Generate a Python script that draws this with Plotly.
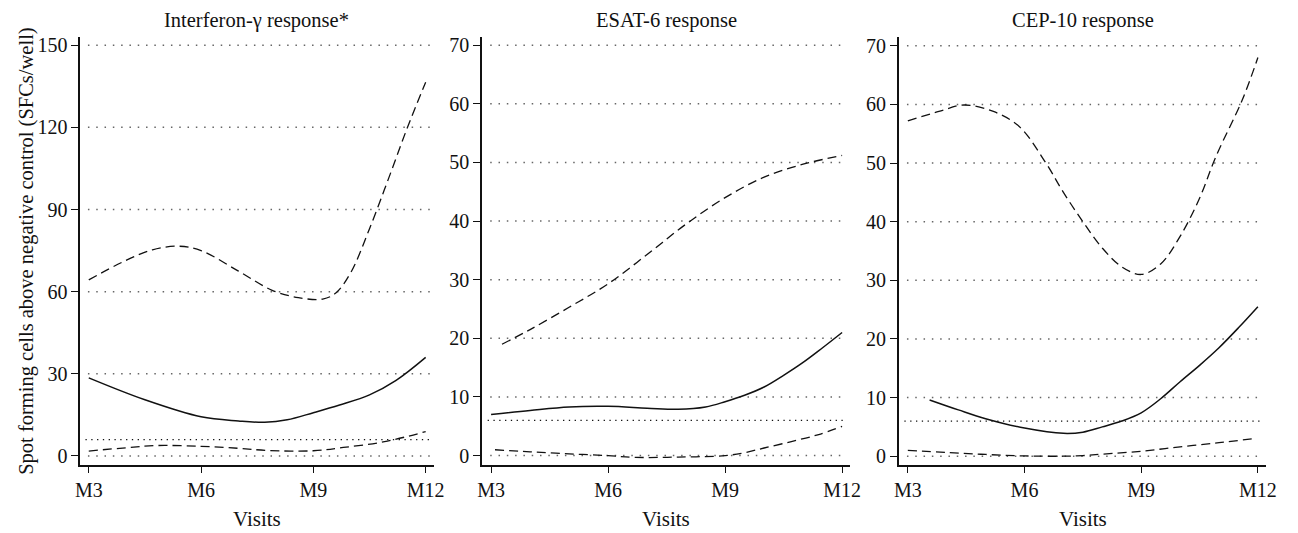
import plotly.graph_objects as go

# ---------------- data ----------------
titles = ["Interferon-\u03b3 response*", "ESAT-6 response", "CEP-10 response"]
x_tickvals = [3, 6, 9, 12]
x_ticktext = ["M3", "M6", "M9", "M12"]
y_ticks_ifn = [0, 30, 60, 90, 120, 150]
y_ticks_esat = [0, 10, 20, 30, 40, 50, 60, 70]
y_ticks_cep = [0, 10, 20, 30, 40, 50, 60, 70]
ref_level = 6

# Interferon-gamma
ifn_fit_x = [3, 4.5, 6, 7, 7.7, 8.3, 9, 9.7, 10.5, 11.2, 12]
ifn_fit_y = [28.5, 20.5, 14.3, 12.8, 12.3, 13.2, 15.8, 18.6, 22.3, 27.5, 36]
ifn_up_x = [3, 3.9, 4.7, 5.4, 6, 7, 7.9, 8.6, 9.25, 9.6, 10, 10.5, 11, 11.5, 12]
ifn_up_y = [64.3, 70.8, 75.3, 76.6, 75.0, 67.5, 60.5, 57.8, 57.3, 59.5, 67, 83, 101, 119.5, 136.5]
ifn_lo_x = [3, 4, 4.8, 6, 7, 7.8, 9, 9.8, 10.9, 12]
ifn_lo_y = [1.8, 3.0, 3.8, 3.5, 2.8, 2.0, 1.9, 3.1, 5.2, 8.9]

# ESAT-6
esat_fit_x = [3, 4, 5, 6, 7, 7.8, 8.5, 9, 9.5, 10, 10.5, 11, 11.5, 12]
esat_fit_y = [7.0, 7.7, 8.3, 8.4, 8.1, 7.9, 8.3, 9.2, 10.3, 11.7, 13.7, 15.9, 18.4, 21.0]
esat_up_x = [3.28, 4, 5, 6, 7, 8, 9, 10, 11, 12]
esat_up_y = [19.0, 21.5, 25.3, 29.3, 34.3, 39.5, 44.0, 47.5, 49.7, 51.2]
esat_lo_x = [3.1, 4, 5, 6, 6.7, 7.8, 9, 9.5, 10, 10.7, 11.4, 12]
esat_lo_y = [1.0, 0.65, 0.3, 0.0, -0.3, -0.25, 0.0, 0.5, 1.3, 2.4, 3.6, 5.0]

# CEP-10
cep_fit_x = [3.56, 4.3, 5, 6, 7, 7.5, 8, 8.5, 9, 9.5, 10, 10.5, 11, 11.5, 12]
cep_fit_y = [9.6, 7.9, 6.4, 4.8, 3.9, 4.1, 5.0, 6.0, 7.4, 9.8, 12.7, 15.5, 18.5, 21.9, 25.5]
cep_up_x = [3, 3.8, 4.45, 5.2, 5.87, 6.55, 7, 7.5, 8, 8.5, 9, 9.5, 10, 10.5, 10.92, 11.6, 12]
cep_up_y = [57.2, 58.8, 59.9, 58.8, 56.2, 50.0, 45.0, 40.0, 35.5, 32.3, 31.0, 32.8, 37.5, 44.0, 51.1, 60.8, 68.0]
cep_lo_x = [3, 4, 5, 6, 7, 7.5, 8, 9, 10, 11, 11.9]
cep_lo_y = [1.0, 0.65, 0.3, 0.05, 0.0, 0.1, 0.35, 0.85, 1.6, 2.3, 3.0]

panels = [
    (ifn_fit_x, ifn_fit_y, ifn_up_x, ifn_up_y, ifn_lo_x, ifn_lo_y, y_ticks_ifn),
    (esat_fit_x, esat_fit_y, esat_up_x, esat_up_y, esat_lo_x, esat_lo_y, y_ticks_esat),
    (cep_fit_x, cep_fit_y, cep_up_x, cep_up_y, cep_lo_x, cep_lo_y, y_ticks_cep),
]

# ---------------- layout / style ----------------
OFF = 8                      # default page body margin
W, H = 1298 - OFF, 533 - OFF
TOP, BOT = 37 - OFF, 465 - OFF   # plot area rows (figure pixels)
MT, MB = TOP, H - BOT
PH = BOT - TOP
FONT = "Liberation Serif, Times New Roman, serif"
INK = "#111111"


def px(pix):
    return (pix - OFF) / W


def py(pix):
    """reference pixel row from top -> paper y"""
    return (BOT - (pix - OFF)) / PH


x_domains = [(px(76), px(434)), (px(483), px(856)), (px(905), px(1277))]
y_ranges = [[-3.3, 153], [-1.6, 71.4], [-1.5, 71.5]]
x_range = [2.77, 12.215]

fig = go.Figure()
layout = dict(
    width=W, height=H,
    margin=dict(l=0, r=0, t=MT, b=MB),
    paper_bgcolor="white", plot_bgcolor="white",
    showlegend=False,
    font=dict(family=FONT, size=20, color=INK),
)
shapes = []
annotations = []

for i, (fx, fy, ux, uy, lx, ly, yt) in enumerate(panels):
    n = "" if i == 0 else str(i + 1)
    xa, ya = "x" + n, "y" + n
    fig.add_trace(go.Scatter(x=fx, y=fy, mode="lines", xaxis=xa, yaxis=ya,
                             line=dict(color=INK, width=1.5, shape="spline", smoothing=1.0)))
    for sx, sy in ((ux, uy), (lx, ly)):
        fig.add_trace(go.Scatter(x=sx, y=sy, mode="lines", xaxis=xa, yaxis=ya,
                                 line=dict(color=INK, width=1.3, dash="9px,5px",
                                           shape="spline", smoothing=1.0)))
    layout["xaxis" + n] = dict(
        domain=list(x_domains[i]), anchor=ya, range=x_range,
        tickvals=x_tickvals, ticktext=x_ticktext, ticks="outside", ticklen=6,
        tickwidth=1.2, tickcolor=INK, showline=True, linecolor=INK, linewidth=1.5,
        showgrid=False, zeroline=False, tickfont=dict(size=20, family=FONT, color=INK),
    )
    layout["yaxis" + n] = dict(
        domain=[0, 1], anchor=xa, range=y_ranges[i],
        tickvals=yt, ticks="outside", ticklen=7, tickwidth=1.2, tickcolor=INK,
        showline=True, linecolor=INK, linewidth=1.5, showgrid=False, zeroline=False,
        tickfont=dict(size=20, family=FONT, color=INK),
    )
    # dotted grid lines
    for v in yt:
        shapes.append(dict(type="line", xref=xa + " domain", yref=ya, x0=0.022, x1=0.99,
                           y0=v, y1=v, line=dict(color="#666666", width=1.5, dash="1.5px,6.8px"),
                           layer="below"))
    # reference level line
    shapes.append(dict(type="line", xref=xa + " domain", yref=ya, x0=0.015, x1=0.99,
                       y0=ref_level, y1=ref_level,
                       line=dict(color=INK, width=1.2, dash="1.3px,4.5px"), layer="below"))
    cx = (x_domains[i][0] + x_domains[i][1]) / 2
    annotations.append(dict(text=titles[i], xref="paper", yref="paper", x=cx, y=py(OFF),
                            xanchor="center", yanchor="top", showarrow=False, borderpad=0,
                            font=dict(size=20.5, family=FONT, color=INK)))
    annotations.append(dict(text="Visits", xref="paper", yref="paper", x=cx, y=py(519),
                            xanchor="center", yanchor="middle", showarrow=False,
                            font=dict(size=21, family=FONT, color=INK)))

annotations.append(dict(text="Spot forming cells above negative control (SFCs/well)",
                        xref="paper", yref="paper", x=px(21), y=py(251),
                        xanchor="center", yanchor="middle", textangle=-90, showarrow=False,
                        font=dict(size=20.5, family=FONT, color=INK)))

layout["shapes"] = shapes
layout["annotations"] = annotations
fig.update_layout(**layout)
fig.write_html("out.html")
